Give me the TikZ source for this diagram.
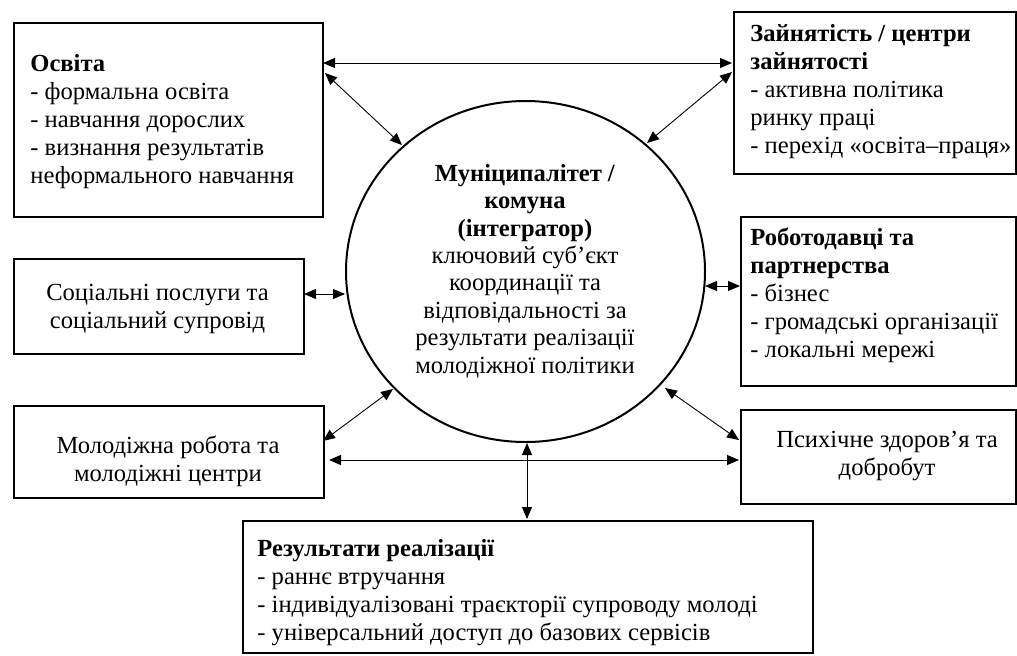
\documentclass[tikz,border=0pt]{standalone}
\usepackage{fontspec}
\setmainfont{Liberation Serif}
\usetikzlibrary{arrows.meta,shapes.geometric}
\begin{document}
\begin{tikzpicture}[x=0.5pt,y=-0.5pt,
  box/.style={draw, line width=1pt, inner sep=0pt, anchor=north west},
  txt/.style={inner sep=0pt, font=\fontsize{12.3}{13.9}\selectfont, align=left, anchor=base west},
  ctxt/.style={inner sep=0pt, font=\fontsize{12.3}{13.9}\selectfont, align=center, anchor=base},
  con/.style={line width=0.45pt, {Triangle[length=6pt,width=5pt]}-{Triangle[length=6pt,width=5pt]}}]
\useasboundingbox (0,0) rectangle (1017,655);

% boxes
\node[box, minimum width=154.5pt, minimum height=97pt] (osv) at (13,22) {};
\node[box, minimum width=141pt, minimum height=81pt] (zay) at (733,11) {};
\node[box, minimum width=145pt, minimum height=47.5pt] (soc) at (13,258) {};
\node[box, minimum width=137.5pt, minimum height=84.5pt] (emp) at (740,216) {};
\node[box, minimum width=155pt, minimum height=46pt] (youth) at (13,405) {};
\node[box, minimum width=137.5pt, minimum height=47pt] (ment) at (740,409) {};
\node[box, minimum width=285pt, minimum height=66pt] (res) at (242,520) {};
\node[draw, ellipse, line width=1pt, inner sep=0pt, minimum width=179.5pt, minimum height=170.5pt] (mun) at (525.5,271.5) {};

% texts (anchor = baseline of the last line)
\node[txt] (osvt) at (30,183) {\textbf{Освіта}\\- формальна освіта\\- навчання дорослих\\- визнання результатів\\неформального навчання};
\node[txt] (zayt) at (750,153) {\textbf{Зайнятість / центри}\\\textbf{зайнятості}\\- активна політика\\ринку праці\\- перехід «освіта–праця»};
\node[ctxt] (soct) at (157.5,328) {Соціальні послуги та\\соціальний супровід};
\node[txt] (empt) at (750,357) {\textbf{Роботодавці та}\\\textbf{партнерства}\\- бізнес\\- громадські організації\\- локальні мережі};
\node[ctxt] (youtht) at (168,481) {Молодіжна робота та\\молодіжні центри};
\node[ctxt] (mentt) at (887,475) {Психічне здоров’я та\\добробут};
\node[txt] (rest) at (257,640) {\textbf{Результати реалізації}\\- раннє втручання\\- індивідуалізовані траєкторії супроводу молоді\\- універсальний доступ до базових сервісів};
\node[ctxt, font=\fontsize{12.3}{13.7}\selectfont] (munt) at (525,373) {\textbf{Муніципалітет /}\\\textbf{комуна}\\\textbf{(інтегратор)}\\ключовий суб’єкт\\координації та\\відповідальності за\\результати реалізації\\молодіжної політики};

% connector end points
\coordinate (a1) at (323,63);  \coordinate (a2) at (732,63);
\coordinate (b1) at (325,73);  \coordinate (b2) at (402,145);
\coordinate (c1) at (732,72);  \coordinate (c2) at (647,143);
\coordinate (d1) at (304,294); \coordinate (d2) at (345,294);
\coordinate (e1) at (705,286); \coordinate (e2) at (740,286);
\coordinate (f1) at (323,441); \coordinate (f2) at (393,389);
\coordinate (g1) at (329,460); \coordinate (g2) at (739,460);
\coordinate (h1) at (665,388); \coordinate (h2) at (739,440);
\coordinate (i1) at (527,443); \coordinate (i2) at (527,519);

\draw[con] (a1) -- (a2);
\draw[con] (b1) -- (b2);
\draw[con] (c1) -- (c2);
\draw[con] (d1) -- (d2);
\draw[con] (e1) -- (e2);
\draw[con] (f1) -- (f2);
\draw[con] (g1) -- (g2);
\draw[con] (h1) -- (h2);
\draw[con] (i1) -- (i2);
\end{tikzpicture}
\end{document}
